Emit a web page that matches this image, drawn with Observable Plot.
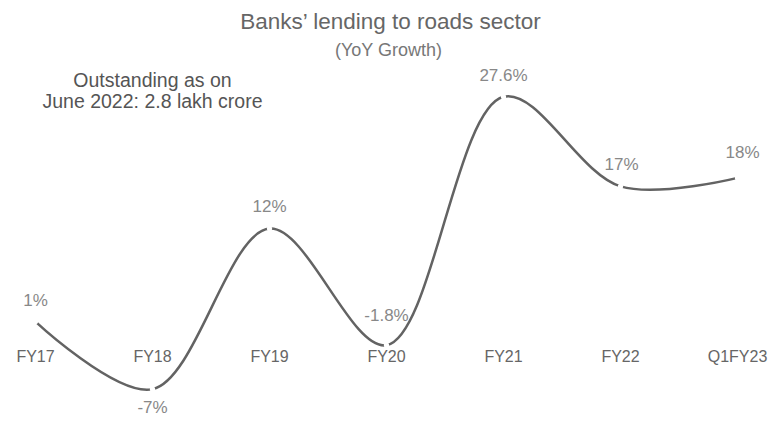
<!DOCTYPE html>
<html>
<head>
<meta charset="utf-8">
<script src="https://cdn.jsdelivr.net/npm/d3@7"></script>
<script src="https://cdn.jsdelivr.net/npm/@observablehq/plot@0.6"></script>
<style>
  html, body { margin: 0; padding: 0; background: #fff; }
  #chart { width: 777px; height: 427px; }
  svg { font-family: "Liberation Sans", Arial, sans-serif; }
</style>
</head>
<body>
<div id="chart"></div>
<script>
const categories = ["FY17", "FY18", "FY19", "FY20", "FY21", "FY22", "Q1FY23"];
const growth = [1, -7, 12, -1.8, 27.6, 17, 18];
const valueLabels = ["1%", "-7%", "12%", "-1.8%", "27.6%", "17%", "18%"];
const labelOffsets = [-21, 18, -22, -30, -21, -22, -25];
const labelShiftX = [0, 0, 0, 0, 0, 1, 5];

const titleText = "Banks\u2019 lending to roads sector";
const subtitleText = "(YoY Growth)";
const noteLines = ["Outstanding as on", "June 2022: 2.8 lakh crore"];

const data = categories.map((c, i) => ({cat: c, v: growth[i], label: valueLabels[i], dy: labelOffsets[i], dx: labelShiftX[i]}));

const chart = Plot.plot({
  width: 777,
  height: 427,
  marginLeft: 35,
  marginRight: 40,
  marginTop: 76,
  marginBottom: 13,
  x: {type: "point", domain: categories, padding: 0, axis: null},
  y: {domain: [-10, 30], axis: null},
  marks: [
    Plot.line(data, {x: "cat", y: "v", curve: "catmull-rom", stroke: "#636363", strokeWidth: 2.5}),
    Plot.dot(data, {x: "cat", y: "v", r: 2.6, fill: "#fff", stroke: "none"}),
    ...data.map(d => Plot.text([d], {x: "cat", y: "v", text: "label", dy: d.dy, dx: d.dx, fill: "#888", fontSize: 17})),
    Plot.text(data, {x: "cat", y: () => 0, text: "cat", dy: 27, fill: "#666", fontSize: 16}),
    Plot.text([titleText], {frameAnchor: "top", dx: 4, dy: -48, lineAnchor: "bottom", fill: "#666", fontSize: 22.5}),
    Plot.text([subtitleText], {frameAnchor: "top", dx: 2, dy: -21, lineAnchor: "bottom", fill: "#777", fontSize: 18}),
    Plot.text([noteLines[0]], {frameAnchor: "top-left", dx: 117, dy: 10, lineAnchor: "bottom", fill: "#555", fontSize: 19.5, textAnchor: "middle"}),
    Plot.text([noteLines[1]], {frameAnchor: "top-left", dx: 117, dy: 31, lineAnchor: "bottom", fill: "#555", fontSize: 19.5, textAnchor: "middle"})
  ]
});
document.getElementById("chart").appendChild(chart);
</script>
</body>
</html>
